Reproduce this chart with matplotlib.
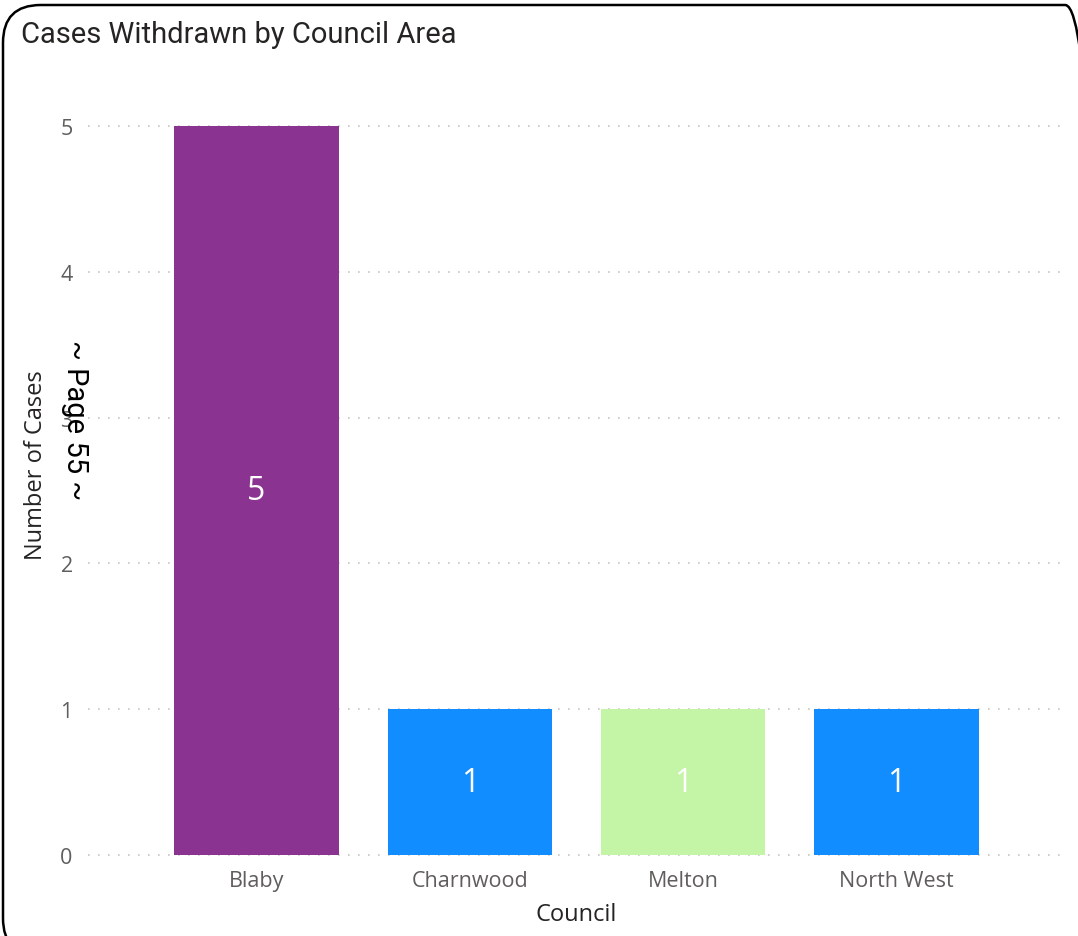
import matplotlib.pyplot as plt
from matplotlib.patches import FancyBboxPatch

councils = ["Blaby", "Charnwood", "Melton", "North West"]
cases = [5, 1, 1, 1]
bar_colors = ["#8A3390", "#118DFF", "#C4F4A5", "#118DFF"]
y_ticks = [0, 1, 2, 3, 4, 5]

plt.rcParams['font.family'] = ['Open Sans', 'DejaVu Sans']

fig = plt.figure(figsize=(10.78, 9.37), dpi=100)
ax = fig.add_axes([88 / 1078, 1 - 856 / 937, (1065 - 88) / 1078, (856 - 127) / 937])

x = range(len(councils))
bars = ax.bar(x, cases, width=0.77, color=bar_colors, zorder=2)

# value labels in the middle of each bar
for b, v in zip(bars, cases):
    ax.text(b.get_x() + b.get_width() / 2, v / 2, str(v), ha="center", va="center",
            color="white", fontsize=23, zorder=3)

ax.set_xlim(-0.79, 3.79)
ax.set_ylim(0, 5)
ax.set_yticks(y_ticks)
ax.set_xticks(list(x))
ax.set_xticklabels(councils)
ax.tick_params(axis="both", length=0, labelsize=15.5, colors="#605E5C")
ax.tick_params(axis="y", pad=11)
ax.tick_params(axis="x", pad=11)
for t in y_ticks:
    ax.axhline(t, color="#C8C6C4", lw=1.2, ls=(0, (1, 5)), zorder=1, clip_on=False)
for s in ax.spines.values():
    s.set_visible(False)

ax.set_xlabel("Council", fontsize=17, color="#252423", labelpad=8)
fig.text(36 / 1078, 1 - 465 / 937, "Number of Cases", rotation=90, ha="center", va="center",
         fontsize=17, color="#252423")

fig.text(21 / 1078, 1 - 35 / 937, "Cases Withdrawn by Council Area", ha="left", va="center",
         fontsize=21, color="#252423", family=["Roboto", "DejaVu Sans"])

# page stamp overlaid on the chart
fig.text(75 / 1078, 1 - 420 / 937, "~ Page 55 ~", rotation=270, ha="center", va="center",
         fontsize=21, color="black", family=["Roboto", "DejaVu Sans"])

# rounded card border
card = FancyBboxPatch((3 / 1078, -20 / 937), 1100 / 1078, 951 / 937,
                      boxstyle="round,pad=0,rounding_size=0.035", transform=fig.transFigure,
                      facecolor="none", edgecolor="black", lw=1.8, mutation_aspect=1078 / 937)
fig.patches.append(card)

fig.savefig("out.png", dpi=100)
